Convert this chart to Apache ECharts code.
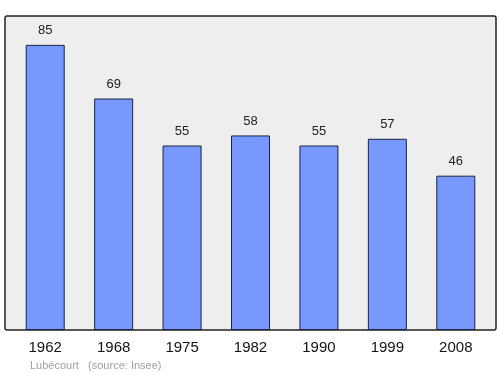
<!DOCTYPE html>
<html><head><meta charset="utf-8">
<script src="https://cdn.jsdelivr.net/npm/echarts@6/dist/echarts.min.js"></script>
<style>html,body{margin:0;padding:0;background:#fff}#c{width:500px;height:374px}</style>
</head><body><div id="c"></div>
<script>
const categories = ['1962','1968','1975','1982','1990','1999','2008'];
const population = [85, 69, 55, 58, 55, 57, 46];
const chart = echarts.init(document.getElementById('c'), null, {renderer:'canvas'});
chart.setOption({
  animation:false,
  backgroundColor:'#fff',
  graphic:[
    {type:'rect', z:-10, shape:{x:5, y:16, width:491, height:314, r:2}, style:{fill:'#eeeeee', stroke:'#222', lineWidth:1.5}},
    {type:'text', left:30, top:360, style:{text:'Lubécourt   (source: Insee)', fill:'#a0a0a0', font:'11px "Liberation Sans", Arial, sans-serif'}}
  ],
  grid:{left:11, right:10, top:16, bottom:44},
  xAxis:{type:'category', data:categories, axisLine:{show:false}, axisTick:{show:false},
    axisLabel:{color:'#111', fontSize:15, fontFamily:'"Liberation Sans", Arial, sans-serif', margin:10}},
  yAxis:{type:'value', min:0, max:93.6, show:false, splitLine:{show:false}},
  series:[{type:'bar', data:population, barWidth:39,
    itemStyle:{color:'#7799ff', borderColor:'#1a2340', borderWidth:1},
    label:{show:true, position:'top', distance:8, color:'#222', fontSize:13, fontFamily:'"Liberation Sans", Arial, sans-serif'}}]
});
</script></body></html>
